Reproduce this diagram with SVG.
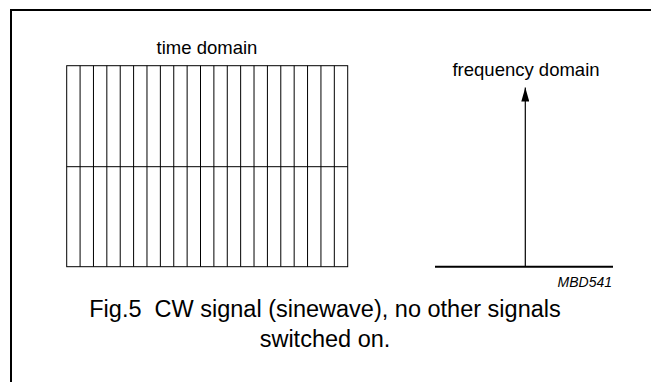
<svg xmlns="http://www.w3.org/2000/svg" width="651" height="382" viewBox="0 0 651 382">
  <style>
    text { font-family: "Liberation Sans", Arial, sans-serif; fill: #000; }
    .label { font-size: 18.5px; text-anchor: middle; }
    .caption { font-size: 23.5px; text-anchor: middle; white-space: pre; }
    .code { font-size: 14px; font-style: italic; text-anchor: end; }
    .frame { fill: none; stroke: #000; stroke-width: 2; }
    .grid line, .grid rect { stroke: #000; stroke-width: 1; fill: none; }
    .axis { stroke: #000; stroke-width: 2; }
    .spike { stroke: #000; stroke-width: 1.2; }
  </style>
  <defs>
    <!-- arrowhead drawn along +x, tip at the line end -->
    <marker id="arrow" viewBox="0 0 14 8" refX="14" refY="4" markerWidth="14" markerHeight="8" markerUnits="userSpaceOnUse" orient="auto">
      <path d="M0,0 L14,4 L0,8 Z" fill="#000"/>
    </marker>
  </defs>

  <rect width="651" height="382" fill="#fff"/>

  <!-- page frame (top and left edges) -->
  <polyline class="frame" points="11,382 11,10 651,10"/>

  <!-- time domain: 21 columns split into two rows -->
  <g id="time-domain">
    <text class="label" x="207" y="54">time domain</text>
    <g class="grid">
      <rect x="66.7" y="65.7" width="281" height="201"/>
      <line x1="66.7" y1="166.7" x2="347.7" y2="166.7"/>
      <line x1="80.08" y1="65.7" x2="80.08" y2="266.7"/>
      <line x1="93.46" y1="65.7" x2="93.46" y2="266.7"/>
      <line x1="106.84" y1="65.7" x2="106.84" y2="266.7"/>
      <line x1="120.22" y1="65.7" x2="120.22" y2="266.7"/>
      <line x1="133.6" y1="65.7" x2="133.6" y2="266.7"/>
      <line x1="146.98" y1="65.7" x2="146.98" y2="266.7"/>
      <line x1="160.37" y1="65.7" x2="160.37" y2="266.7"/>
      <line x1="173.75" y1="65.7" x2="173.75" y2="266.7"/>
      <line x1="187.13" y1="65.7" x2="187.13" y2="266.7"/>
      <line x1="200.51" y1="65.7" x2="200.51" y2="266.7"/>
      <line x1="213.89" y1="65.7" x2="213.89" y2="266.7"/>
      <line x1="227.27" y1="65.7" x2="227.27" y2="266.7"/>
      <line x1="240.65" y1="65.7" x2="240.65" y2="266.7"/>
      <line x1="254.03" y1="65.7" x2="254.03" y2="266.7"/>
      <line x1="267.41" y1="65.7" x2="267.41" y2="266.7"/>
      <line x1="280.79" y1="65.7" x2="280.79" y2="266.7"/>
      <line x1="294.17" y1="65.7" x2="294.17" y2="266.7"/>
      <line x1="307.56" y1="65.7" x2="307.56" y2="266.7"/>
      <line x1="320.94" y1="65.7" x2="320.94" y2="266.7"/>
      <line x1="334.32" y1="65.7" x2="334.32" y2="266.7"/>
    </g>
  </g>

  <!-- frequency domain: single spectral line on a baseline -->
  <g id="frequency-domain">
    <text class="label" x="526" y="76">frequency domain</text>
    <line class="axis" x1="435" y1="266.7" x2="613" y2="266.7"/>
  </g>

  <g id="connectors">
    <line class="spike" x1="525.3" y1="266" x2="525.3" y2="87.5" marker-end="url(#arrow)"/>
  </g>

  <g id="code">
    <text class="code" x="612" y="287">MBD541</text>
  </g>

  <g id="caption">
    <text class="caption" x="325" y="317" xml:space="preserve">Fig.5  CW signal (sinewave), no other signals</text>
    <text class="caption" x="325" y="347">switched on.</text>
  </g>
</svg>
